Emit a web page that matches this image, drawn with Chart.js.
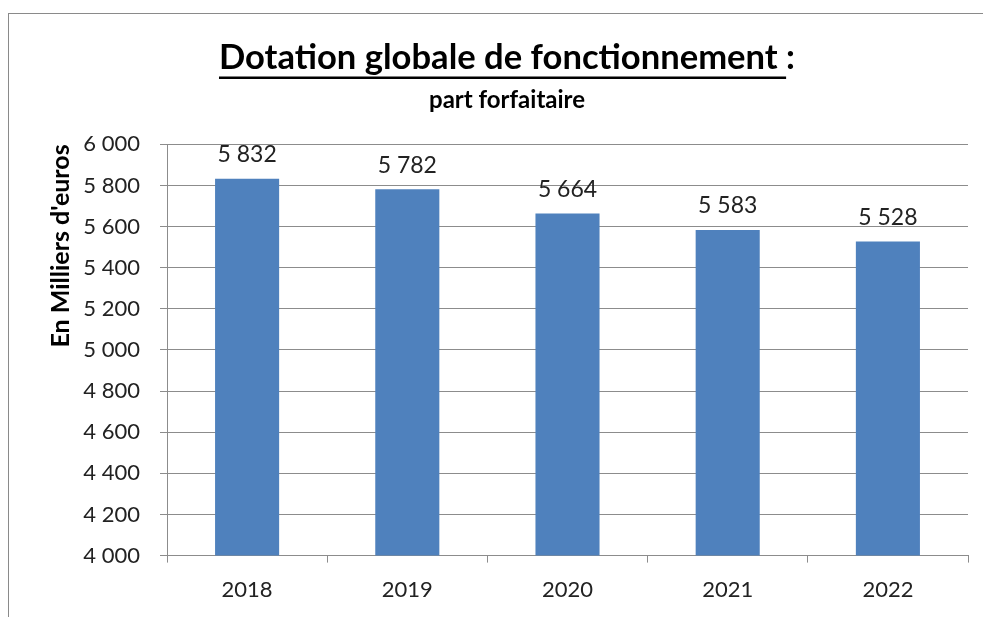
<!DOCTYPE html>
<html>
<head>
<meta charset="utf-8">
<script src="https://cdn.jsdelivr.net/npm/chart.js@4/dist/chart.umd.min.js"></script>
<style>
  html, body { margin: 0; background: #fff; overflow: hidden; }
  #wrap { position: relative; width: 983px; height: 617px; overflow: hidden; }
  #frame { position: absolute; left: 8px; top: 13px; width: 1100px; height: 800px; border: 1px solid #8a8a8a; }
  #chart { position: absolute; left: 0; top: 0; }
</style>
</head>
<body>
<div id="wrap">
  <div id="frame"></div>
  <canvas id="chart" width="983" height="617"></canvas>
</div>
<script>
// chart data
const years = ["2018", "2019", "2020", "2021", "2022"];
const dotation = [5832, 5782, 5664, 5583, 5528];
const yMin = 4000;
const yMax = 6000;
const yStep = 200;

const FONT = "Lato, 'Open Sans', sans-serif";

// 5832 -> "5 832"
function fmt(v) {
  return String(v).replace(/\B(?=(\d{3})+(?!\d))/g, " ");
}

// underline under the main title (not the colon)
const underlineTitle = {
  id: "underlineTitle",
  afterDraw(chart) {
    const tb = chart.titleBlock;
    if (!tb) return;
    const opts = tb.options;
    const font = Chart.helpers.toFont(opts.font);
    const pad = Chart.helpers.toPadding(opts.padding);
    const ctx = chart.ctx;
    ctx.save();
    ctx.font = font.string;
    const full = ctx.measureText(opts.text).width;
    const part = ctx.measureText(opts.text.replace(/:\s*$/, "")).width;
    const cx = (tb.left + tb.right) / 2;
    const x0 = cx - full / 2;
    const y = tb.top + pad.top + font.lineHeight / 2 + font.size * 0.58;
    ctx.strokeStyle = "#000";
    ctx.lineWidth = 2.5;
    ctx.beginPath();
    ctx.moveTo(x0, y);
    ctx.lineTo(x0 + part, y);
    ctx.stroke();
    ctx.restore();
  }
};

// value labels above the bars
const barLabels = {
  id: "barLabels",
  afterDatasetsDraw(chart) {
    const ctx = chart.ctx;
    const meta = chart.getDatasetMeta(0);
    ctx.save();
    ctx.font = "23px " + FONT;
    ctx.fillStyle = "#222";
    ctx.textAlign = "center";
    ctx.textBaseline = "middle";
    meta.data.forEach((bar, i) => {
      ctx.fillText(fmt(dotation[i]), bar.x, bar.y - 24);
    });
    ctx.restore();
  }
};

new Chart(document.getElementById("chart"), {
  type: "bar",
  data: {
    labels: years,
    datasets: [{
      data: dotation,
      backgroundColor: "#4F81BD",
      barPercentage: 0.8,
      categoryPercentage: 0.5
    }]
  },
  plugins: [underlineTitle, barLabels],
  options: {
    responsive: false,
    animation: false,
    layout: { padding: { left: 46, right: 15, top: 37, bottom: 0 } },
    plugins: {
      legend: { display: false },
      tooltip: { enabled: false },
      title: {
        display: true,
        text: "Dotation globale de fonctionnement :",
        color: "#000",
        font: { family: FONT, size: 34.6, weight: "bold" },
        padding: { top: 0, bottom: 7 }
      },
      subtitle: {
        display: true,
        text: "part forfaitaire",
        color: "#000",
        font: { family: FONT, size: 24, weight: "bold" },
        padding: { top: 0, bottom: 30 }
      }
    },
    scales: {
      y: {
        min: yMin,
        max: yMax,
        afterFit: scale => { scale.width = 121; }, // fixed axis width like the original
        ticks: {
          stepSize: yStep,
          color: "#222",
          font: { family: FONT, size: 22 },
          padding: 20,
          callback: v => fmt(v)
        },
        grid: { color: "#8c8c8c", lineWidth: 1, tickLength: 7 },
        border: { color: "#8c8c8c" },
        title: {
          display: true,
          text: "En Milliers d'euros",
          align: "end",
          color: "#000",
          font: { family: FONT, size: 25, weight: "bold" },
          padding: { top: 0, bottom: 0 }
        }
      },
      x: {
        ticks: {
          color: "#222",
          font: { family: FONT, size: 22 },
          padding: 14
        },
        grid: { display: true, offset: true, drawOnChartArea: false, color: "#8c8c8c", tickLength: 7 },
        border: { color: "#8c8c8c" }
      }
    }
  }
});
</script>
</body>
</html>
